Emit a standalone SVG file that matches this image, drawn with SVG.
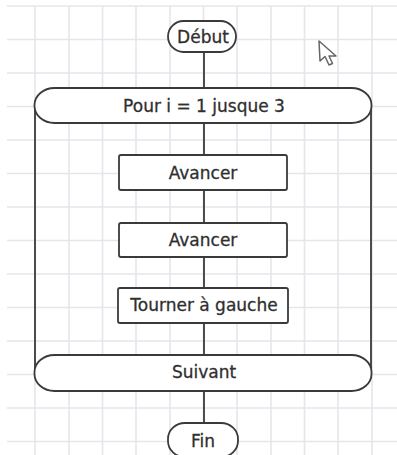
<svg xmlns="http://www.w3.org/2000/svg" width="397" height="455" viewBox="0 0 397 455">
<defs>
<style>
.grid line{stroke:#e5e5eb;stroke-width:1.6}
.shape{fill:#fff;stroke:#3a3a3a;stroke-width:1.8}
.conn line{stroke:#3a3a3a;stroke-width:1.8}
.lbl{font-family:"DejaVu Sans",Verdana,sans-serif;font-size:17px;fill:#2f2f2f;stroke:#2f2f2f;stroke-width:0.3;text-anchor:middle;dominant-baseline:central}
</style>
</defs>
<rect width="397" height="455" fill="#fff"/>
<g class="grid">
<line x1="35" y1="6" x2="35" y2="455"/>
<line x1="69" y1="6" x2="69" y2="455"/>
<line x1="102.5" y1="6" x2="102.5" y2="455"/>
<line x1="136" y1="6" x2="136" y2="455"/>
<line x1="170" y1="6" x2="170" y2="455"/>
<line x1="203.5" y1="6" x2="203.5" y2="455"/>
<line x1="237" y1="6" x2="237" y2="455"/>
<line x1="271" y1="6" x2="271" y2="455"/>
<line x1="304.5" y1="6" x2="304.5" y2="455"/>
<line x1="338" y1="6" x2="338" y2="455"/>
<line x1="372" y1="6" x2="372" y2="455"/>
<line x1="7" y1="6" x2="397" y2="6"/>
<line x1="7" y1="39.5" x2="397" y2="39.5"/>
<line x1="7" y1="73" x2="397" y2="73"/>
<line x1="7" y1="106.5" x2="397" y2="106.5"/>
<line x1="7" y1="140" x2="397" y2="140"/>
<line x1="7" y1="173.5" x2="397" y2="173.5"/>
<line x1="7" y1="207" x2="397" y2="207"/>
<line x1="7" y1="240.5" x2="397" y2="240.5"/>
<line x1="7" y1="274" x2="397" y2="274"/>
<line x1="7" y1="307.5" x2="397" y2="307.5"/>
<line x1="7" y1="341" x2="397" y2="341"/>
<line x1="7" y1="374.5" x2="397" y2="374.5"/>
<line x1="7" y1="408" x2="397" y2="408"/>
<line x1="7" y1="441.5" x2="397" y2="441.5"/>
</g>
<g class="conn">
<line x1="204" y1="52" x2="204" y2="88"/>
<line x1="204" y1="123" x2="204" y2="155"/>
<line x1="204" y1="190" x2="204" y2="223"/>
<line x1="204" y1="257" x2="204" y2="288"/>
<line x1="204" y1="323" x2="204" y2="355"/>
<line x1="204" y1="391" x2="204" y2="423"/>
<line x1="35" y1="105" x2="35" y2="373"/>
<line x1="371" y1="105" x2="371" y2="373"/>
</g>
<g id="debut"><rect class="shape" x="168" y="21" width="68" height="31" rx="15.5" ry="15.5"/><text class="lbl" x="203" y="37">Début</text></g>
<g id="pour"><rect class="shape" x="34.5" y="88" width="337" height="35" rx="20" ry="17"/><text class="lbl" x="204" y="106">Pour i = 1 jusque 3</text></g>
<g id="avancer1"><rect class="shape" x="119" y="155" width="168" height="35" rx="2"/><text class="lbl" x="203" y="173">Avancer</text></g>
<g id="avancer2"><rect class="shape" x="119" y="223" width="168" height="34" rx="2"/><text class="lbl" x="203" y="240">Avancer</text></g>
<g id="tourner"><rect class="shape" x="118" y="288" width="170" height="35" rx="2"/><text class="lbl" x="204" y="305">Tourner à gauche</text></g>
<g id="suivant"><rect class="shape" x="34.5" y="355" width="337" height="36" rx="20" ry="17"/><text class="lbl" x="204" y="372">Suivant</text></g>
<g id="fin"><rect class="shape" x="168" y="423" width="70" height="34" rx="17" ry="16"/><text class="lbl" x="203" y="441">Fin</text></g>
<path d="M319,41 L320,61 L325,56.5 L329,65 L332.5,63.5 L329,56 L336,56 Z" fill="#fff" stroke="#666" stroke-width="1.5" stroke-linejoin="round"/>
</svg>
